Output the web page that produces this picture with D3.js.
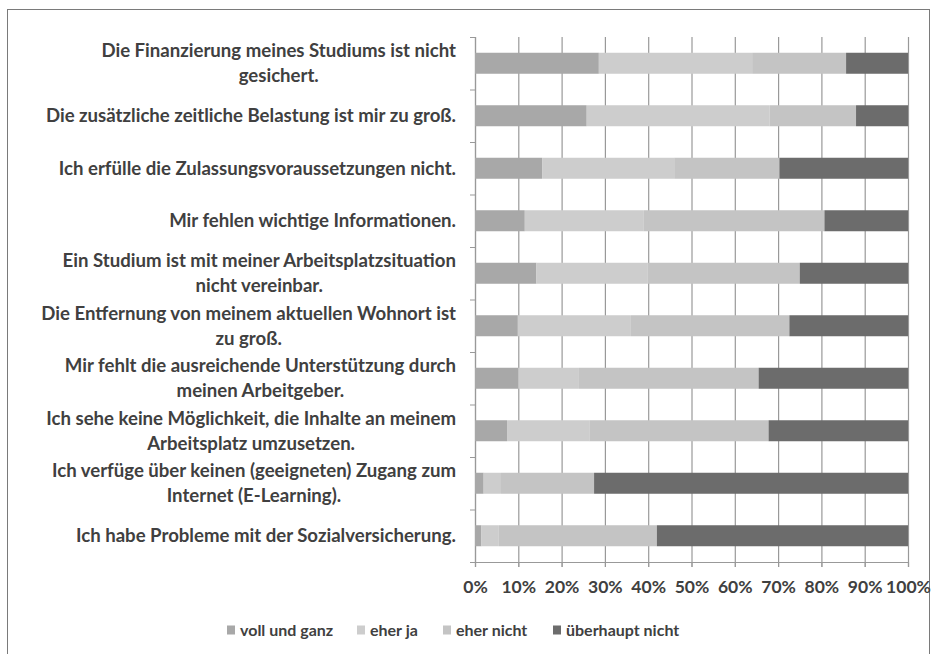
<!DOCTYPE html>
<html>
<head>
<meta charset="utf-8">
<script src="https://cdn.jsdelivr.net/npm/d3@7"></script>
<style>
  body { margin: 0; background: #fff; }
  text { font-family: Lato, "Open Sans", sans-serif; fill: #404040; }
</style>
</head>
<body>
<div id="chart"></div>
<script>
// data (percent of answers)
var categories = [
    ["Die Finanzierung meines Studiums ist nicht", "gesichert."],
    ["Die zusätzliche zeitliche Belastung ist mir zu groß."],
    ["Ich erfülle die Zulassungsvoraussetzungen nicht."],
    ["Mir fehlen wichtige Informationen."],
    ["Ein Studium ist mit meiner Arbeitsplatzsituation", "nicht vereinbar."],
    ["Die Entfernung von meinem aktuellen Wohnort ist", "zu groß."],
    ["Mir fehlt die ausreichende Unterstützung durch", "meinen Arbeitgeber."],
    ["Ich sehe keine Möglichkeit, die Inhalte an meinem", "Arbeitsplatz umzusetzen."],
    ["Ich verfüge über keinen (geeigneten) Zugang zum", "Internet (E-Learning)."],
    ["Ich habe Probleme mit der Sozialversicherung."]
];
var seriesNames = ["voll und ganz", "eher ja", "eher nicht", "überhaupt nicht"];
var vollUndGanz    = [28.6, 25.8, 15.5, 11.5, 14.2,  9.9, 10.0,  7.4,  2.0,  1.5];
var eherJa         = [35.4, 42.2, 30.5, 27.5, 25.6, 26.1, 14.0, 19.0,  4.0,  4.0];
var eherNicht      = [21.7, 20.0, 24.3, 41.7, 35.2, 36.6, 41.5, 41.4, 21.5, 36.5];
var ueberhauptNicht= [14.3, 12.0, 29.7, 19.3, 25.0, 27.4, 34.5, 32.2, 72.5, 58.0];
var xTicks = [0, 10, 20, 30, 40, 50, 60, 70, 80, 90, 100];

var colors = ["#a8a8a8", "#cdcdcd", "#c4c4c4", "#6c6c6c"];

var width = 938, height = 654;
var plot = {left: 475, right: 908, top: 37, bottom: 562};

var svg = d3.select("#chart").append("svg")
    .attr("width", width)
    .attr("height", height);

// outer frame
svg.append("rect")
    .attr("x", 7.5).attr("y", 9.5)
    .attr("width", 922).attr("height", 700)
    .attr("fill", "none")
    .attr("stroke", "#7a7a7a");

var keys = categories.map(function(c, i) { return i; });

var x = d3.scaleLinear().domain([0, 100]).range([plot.left, plot.right]);
var y = d3.scaleBand().domain(keys).range([plot.top, plot.bottom])
    .paddingInner(0.6).paddingOuter(0.3);

// grid
svg.append("g")
    .selectAll("line")
    .data(xTicks)
    .enter().append("line")
    .attr("x1", function(d) { return x(d) + 0.5; })
    .attr("x2", function(d) { return x(d) + 0.5; })
    .attr("y1", plot.top)
    .attr("y2", plot.bottom + 5)
    .attr("stroke", "#999")
    .attr("stroke-width", 1.2);

// bottom axis
var xAxis = svg.append("g")
    .attr("transform", "translate(0," + plot.bottom + ")")
    .call(d3.axisBottom(x).tickValues(xTicks).tickSize(5).tickPadding(14)
        .tickFormat(function(d) { return d + "%"; }));
xAxis.select(".domain").attr("stroke", "#999").attr("stroke-width", 1.2);
xAxis.selectAll(".tick line").attr("stroke", "#999");
xAxis.selectAll("text")
    .style("font-family", "Lato, sans-serif")
    .style("font-size", "17.5px")
    .style("font-weight", 700)
    .attr("fill", "#484848");

// left axis: line plus ticks at band edges
svg.append("line")
    .attr("x1", plot.left + 0.5).attr("x2", plot.left + 0.5)
    .attr("y1", plot.top).attr("y2", plot.bottom)
    .attr("stroke", "#999").attr("stroke-width", 1.2);
var step = y.step();
svg.append("g")
    .selectAll("line")
    .data(d3.range(keys.length + 1))
    .enter().append("line")
    .attr("x1", plot.left - 5).attr("x2", plot.left)
    .attr("y1", function(d) { return plot.top + d * step + 0.5; })
    .attr("y2", function(d) { return plot.top + d * step + 0.5; })
    .attr("stroke", "#999");

// stacked bars
var table = keys.map(function(i) {
    return {
        key: i,
        "voll und ganz": vollUndGanz[i],
        "eher ja": eherJa[i],
        "eher nicht": eherNicht[i],
        "überhaupt nicht": ueberhauptNicht[i]
    };
});
var stack = d3.stack().keys(seriesNames)(table);

svg.append("g")
    .selectAll("g")
    .data(stack)
    .enter().append("g")
    .attr("fill", function(d, i) { return colors[i]; })
    .selectAll("rect")
    .data(function(d) { return d; })
    .enter().append("rect")
    .attr("x", function(d) { return x(d[0]); })
    .attr("width", function(d) { return x(d[1]) - x(d[0]); })
    .attr("y", function(d) { return y(d.data.key); })
    .attr("height", y.bandwidth());

// category labels, lines centred, block right aligned
var labelRight = 456, lineGap = 25;
var labels = svg.append("g");
categories.forEach(function(lines, i) {
    var cy = y(i) + y.bandwidth() / 2;
    var g = labels.append("g");
    var t = g.selectAll("text")
        .data(lines)
        .enter().append("text")
        .attr("y", function(d, j) { return cy + (j - (lines.length - 1) / 2) * lineGap; })
        .attr("dy", "0.35em")
        .attr("text-anchor", "middle")
        .style("font-size", "18.6px")
        .style("font-weight", 700)
        .text(function(d) { return d; });
    var maxW = d3.max(t.nodes(), function(n) { return n.getComputedTextLength(); });
    t.attr("x", labelRight - maxW / 2);
});

// legend
var legendX = [227, 357, 443, 553];
var legend = svg.append("g")
    .selectAll("g")
    .data(seriesNames)
    .enter().append("g")
    .attr("transform", function(d, i) { return "translate(" + legendX[i] + ",630)"; });
legend.append("rect")
    .attr("x", 0).attr("y", -4.5)
    .attr("width", 8).attr("height", 9)
    .attr("fill", function(d, i) { return colors[i]; });
legend.append("text")
    .attr("x", 13)
    .attr("dy", "0.35em")
    .style("font-size", "16px")
    .style("font-weight", 700)
    .text(function(d) { return d; });
</script>
</body>
</html>
